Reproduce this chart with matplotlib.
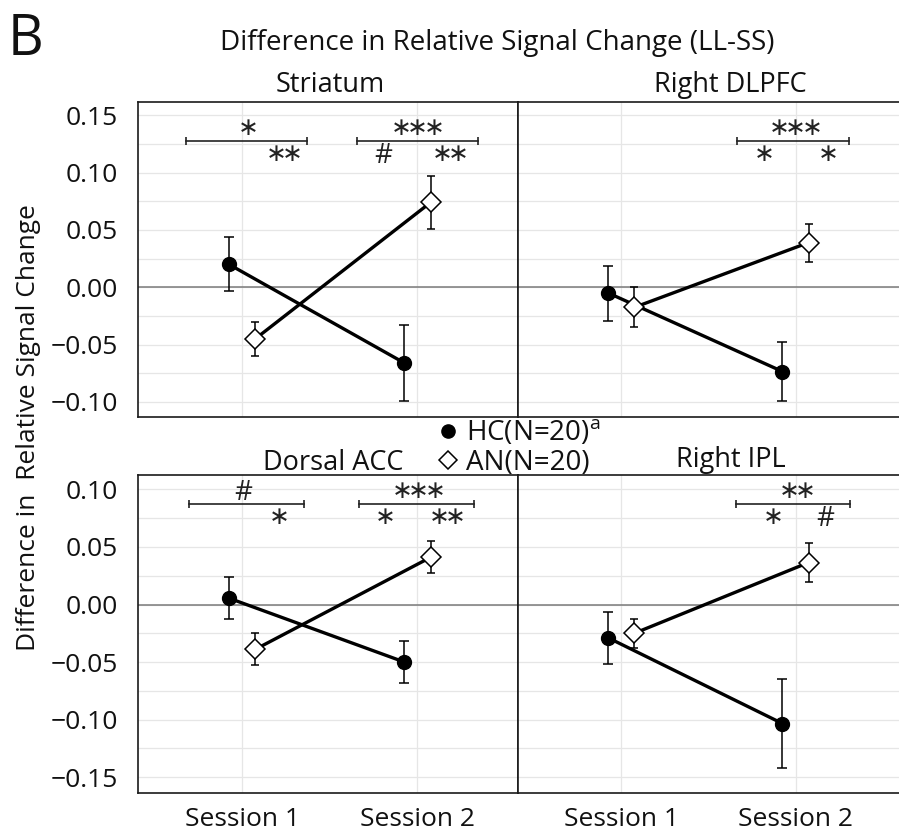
import matplotlib
matplotlib.use('Agg')
import matplotlib.pyplot as plt
from matplotlib.lines import Line2D

plt.rcParams['font.family'] = ['Open Sans', 'DejaVu Sans']
plt.rcParams['mathtext.fontset'] = 'custom'
plt.rcParams['mathtext.rm'] = 'Open Sans'
plt.rcParams['text.color'] = '#111111'

# ---------------- data ----------------
sessions = [1, 2]
session_labels = ['Session 1', 'Session 2']
regions = ['Striatum', 'Right DLPFC', 'Dorsal ACC', 'Right IPL']

hc_mean = [[0.020, -0.066], [-0.005, -0.0735], [0.0055, -0.050], [-0.029, -0.1035]]
hc_se = [[0.0236, 0.033], [0.024, 0.026], [0.018, 0.018], [0.0225, 0.0385]]
an_mean = [[-0.045, 0.074], [-0.0175, 0.039], [-0.039, 0.041], [-0.025, 0.0365]]
an_se = [[0.015, 0.023], [0.0175, 0.0166], [0.014, 0.014], [0.0125, 0.017]]

top_ticks = [0.15, 0.10, 0.05, 0.00, -0.05, -0.10]
top_minor = [0.125, 0.075, 0.025, -0.025, -0.075]
bottom_ticks = [0.10, 0.05, 0.00, -0.05, -0.10, -0.15]
bottom_minor = [0.075, 0.025, -0.025, -0.075, -0.125]

bracket_y = [0.128, 0.128, 0.0874, 0.0874]
brackets = [[(0.68, 1.372), (1.657, 2.343)],
            [(1.663, 2.309)],
            [(0.697, 1.355), (1.669, 2.32)],
            [(1.657, 2.314)]]
sig_above = [[(1.029, '*'), (1.994, '***')],
             [(1.996, '***')],
             [(1.006, '#'), (2.0, '***')],
             [(2.006, '**')]]
sig_below = [[(1.235, '**'), (1.806, '#'), (2.183, '**')],
             [(1.81, '*'), (2.18, '*')],
             [(1.206, '*'), (1.806, '*'), (2.166, '**')],
             [(1.862, '*'), (2.168, '#')]]

hc_label = r'HC(N=20)$^{\mathrm{a}}$'
an_label = 'AN(N=20)'
# --------------------------------------

W, H = 899, 832
fig = plt.figure(figsize=(W / 100, H / 100), dpi=100)


def rect(x0, x1, ytop, ybot):
    return [x0 / W, 1 - ybot / H, (x1 - x0) / W, (ybot - ytop) / H]


rects = [rect(138, 517.5, 102, 417), rect(517.5, 899, 102, 417),
         rect(138, 517.5, 475, 793), rect(517.5, 899, 475, 793)]
ylims = [(-0.1132, 0.1617), (-0.1132, 0.1617), (-0.1639, 0.1126), (-0.1639, 0.1126)]
xlims = [(0.406, 2.571), (0.404, 2.594), (0.406, 2.571), (0.404, 2.594)]
offset = 0.075


def star_text(n):
    return '$' + r'\!'.join([r'{\ast}'] * n) + '$'


axes = []
for i in range(4):
    ax = fig.add_axes(rects[i])
    axes.append(ax)
    ticks = top_ticks if i < 2 else bottom_ticks
    minor = top_minor if i < 2 else bottom_minor
    ax.set_yticks(ticks)
    ax.set_yticks(minor, minor=True)
    ax.set_yticklabels([f'{t:.2f}'.replace('-', '\u2212') for t in ticks])
    ax.set_xticks(sessions)
    ax.set_xticklabels(session_labels)
    ax.set_xlim(*xlims[i])
    ax.set_ylim(*ylims[i])
    ax.tick_params(axis='both', which='both', length=0, labelsize=19, colors='#111111')
    ax.tick_params(axis='y', pad=14.4)
    ax.tick_params(axis='x', pad=10)
    if i < 2:
        ax.tick_params(axis='x', labelbottom=False)
    if i % 2 == 1:
        ax.tick_params(axis='y', labelleft=False)
        ax.spines['right'].set_visible(False)
    for sp in ax.spines.values():
        sp.set_linewidth(1.2)
        sp.set_color('#1a1a1a')
    ax.set_axisbelow(True)
    ax.grid(True, which='both', axis='y', color='#e6e6e6', lw=0.9)
    ax.grid(True, which='major', axis='x', color='#e6e6e6', lw=0.9)
    ax.axhline(0, color='#7a7a7a', lw=1.1, zorder=1.5)

    hx = [s - offset for s in sessions]
    axx = [s + offset for s in sessions]
    ax.plot(hx, hc_mean[i], '-', color='black', lw=2.4, zorder=2, solid_capstyle='butt')
    ax.plot(axx, an_mean[i], '-', color='black', lw=2.4, zorder=2, solid_capstyle='butt')
    ax.errorbar(hx, hc_mean[i], yerr=hc_se[i], fmt='none', ecolor='black',
                elinewidth=1.1, capsize=3.6, capthick=1.1, zorder=3)
    ax.errorbar(axx, an_mean[i], yerr=an_se[i], fmt='none', ecolor='black',
                elinewidth=1.1, capsize=3.2, capthick=1.1, zorder=3)
    ax.plot(hx, hc_mean[i], 'o', color='black', ms=10, zorder=4)
    ax.plot(axx, an_mean[i], 'D', mfc='white', mec='black', mew=1.1, ms=9.8, zorder=4)

    for (x0, x1) in brackets[i]:
        ax.plot([x0, x1], [bracket_y[i], bracket_y[i]], '-', color='#222222', lw=1.2,
                marker='|', ms=6, mew=1.2, zorder=3)

    def sym(x, s, dy):
        if '*' in s:
            ax.annotate(star_text(len(s)), xy=(x, bracket_y[i]), xytext=(0, dy),
                        textcoords='offset points', ha='center', va='center',
                        fontsize=18, math_fontfamily='dejavusans', color='#222222')
        else:
            ax.annotate(s, xy=(x, bracket_y[i]), xytext=(0, dy - 1),
                        textcoords='offset points', ha='center', va='center',
                        fontsize=20, color='#222222')

    for x, s in sig_above[i]:
        sym(x, s, 8.8)
    for x, s in sig_below[i]:
        sym(x, s, -10)

# titles
title_pos = [(330, 92), (730, 92), (333, 470), (731, 467)]
for (x, y), name in zip(title_pos, regions):
    fig.text(x / W, 1 - y / H, name, ha='center', va='baseline', fontsize=19.5)

fig.text(497.5 / W, 1 - 50 / H, 'Difference in Relative Signal Change (LL-SS)',
         ha='center', va='baseline', fontsize=20)
fig.text(8 / W, 1 - 55 / H, 'B', ha='left', va='baseline', fontsize=40)
fig.text(29 / W, 1 - 427.5 / H, 'Difference in  Relative Signal Change', rotation=90,
         ha='center', va='center', fontsize=19)

handles = [Line2D([], [], marker='o', color='black', ls='none', ms=9.5),
           Line2D([], [], marker='D', mfc='white', mec='black', mew=1.1, ls='none', ms=9)]
fig.legend(handles, [hc_label, an_label], loc='center left',
           bbox_to_anchor=(439.6 / W, 1 - 447.5 / H), frameon=False, fontsize=20,
           handlelength=0.6, handletextpad=0.35, labelspacing=0.05,
           borderpad=0, borderaxespad=0)

fig.savefig('out.png', dpi=100)
